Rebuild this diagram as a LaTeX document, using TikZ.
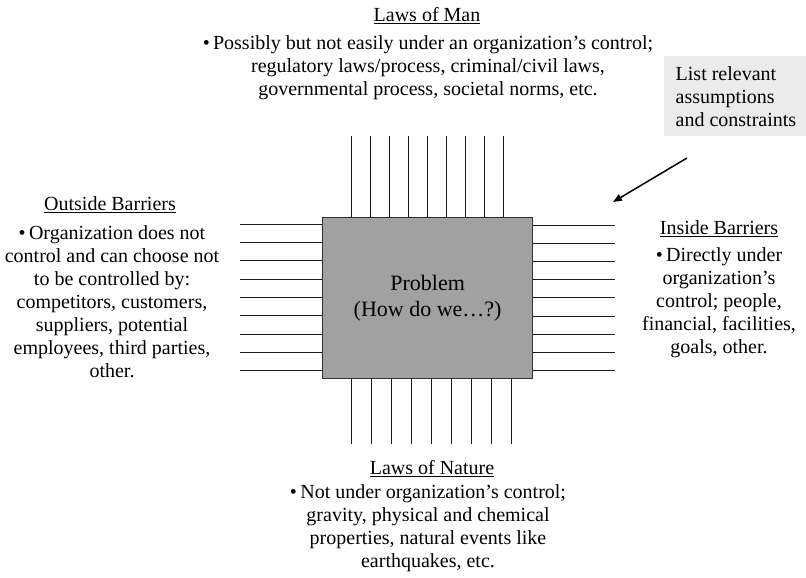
\documentclass[tikz,border=0pt]{standalone}
\usepackage{fontspec}
\setmainfont{Liberation Serif}
\usetikzlibrary{calc,arrows.meta}
\begin{document}
\begin{tikzpicture}[x=1pt,y=-1pt,
  txt/.style={align=center, font=\fontsize{20}{23}\selectfont, inner sep=0pt},
  head/.style={txt},
  pin/.style={draw=black!90, line width=0.9pt},
  core/.style={draw=black!80, line width=1.2pt, fill=black!37,
    minimum width=210pt, minimum height=161pt, inner sep=0pt,
    font=\fontsize{22}{26}\selectfont, align=center},
  note/.style={fill=black!8, align=left, inner xsep=11.5pt,
    minimum height=80pt, font=\fontsize{20}{23}\selectfont},
  pointer/.style={-{Triangle[length=9pt,width=7pt]}, line width=1.5pt}
]
\useasboundingbox (0,0) rectangle (806,578);

% central problem block
\node[core, anchor=north west] (prob) at (322,217) {Problem\\(How do we\ldots?)};

% barrier pins on each side of the block
\foreach \i in {0,...,8} {
  \draw[pin] ($(prob.north west)+(29+19.1*\i,0)$) -- ++(0,-81);
  \draw[pin] ($(prob.south west)+(29+20.05*\i,0)$) -- ++(0,65);
  \draw[pin] ($(prob.north west)+(0,7.3+18.3*\i)$) -- ++(-82,0);
  \draw[pin] ($(prob.north east)+(0,8+18.2*\i)$) -- ++(82,0);
}

% laws of man (top)
\node[head] (manT) at (427,16) {\underline{Laws of Man}};
\node[txt] (manB) at (428,68) {•\,Possibly but not easily under an organization’s control;\\
  regulatory laws/process, criminal/civil laws,\\
  governmental process, societal norms, etc.};

% outside barriers (left)
\node[head] (outT) at (110,205) {\underline{Outside Barriers}};
\node[txt] (outB) at (112,302) {•\,Organization does not\\
  control and can choose not\\
  to be controlled by:\\
  competitors, customers,\\
  suppliers, potential\\
  employees, third parties,\\
  other.};

% inside barriers (right)
\node[head] (inT) at (719,229) {\underline{Inside Barriers}};
\node[txt] (inB) at (719,303) {•\,Directly under\\
  organization’s\\
  control; people,\\
  financial, facilities,\\
  goals, other.};

% laws of nature (bottom)
\node[head] (natT) at (432,469) {\underline{Laws of Nature}};
\node[txt] (natB) at (428,528) {•\,Not under organization’s control;\\
  gravity, physical and chemical\\
  properties, natural events like\\
  earthquakes, etc.};

% assumptions note and its pointer
\node[note, anchor=north west] (memo) at (664,56) {List relevant\\assumptions\\and constraints};
\coordinate (arrS) at (687,158);
\coordinate (arrE) at (613,202);
\draw[pointer] (arrS) -- (arrE);
\end{tikzpicture}
\end{document}
